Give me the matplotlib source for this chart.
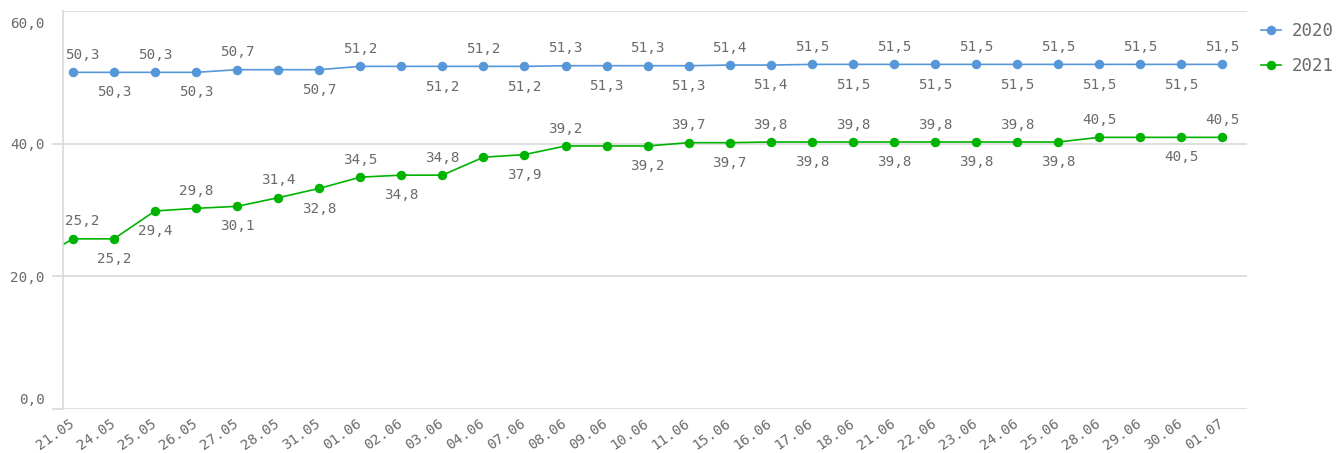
import matplotlib
matplotlib.use("Agg")
import matplotlib.pyplot as plt
import matplotlib.transforms as mtransforms
import numpy as np

# ---- data ----
dates = ["20.05", "21.05", "24.05", "25.05", "26.05", "27.05", "28.05", "31.05", "01.06",
         "02.06", "03.06", "04.06", "07.06", "08.06", "09.06", "10.06", "11.06",
         "15.06", "16.06", "17.06", "18.06", "21.06", "22.06", "23.06", "24.06",
         "25.06", "28.06", "29.06", "30.06", "01.07"]
s2020 = [np.nan, 50.3, 50.3, 50.3, 50.3, 50.7, 50.7, 50.7, 51.2, 51.2, 51.2, 51.2, 51.2,
         51.3, 51.3, 51.3, 51.3, 51.4, 51.4, 51.5, 51.5, 51.5, 51.5, 51.5, 51.5,
         51.5, 51.5, 51.5, 51.5, 51.5]
s2021 = [21.6, 25.2, 25.2, 29.4, 29.8, 30.1, 31.4, 32.8, 34.5, 34.8, 34.8, 37.5, 37.9,
         39.2, 39.2, 39.2, 39.7, 39.7, 39.8, 39.8, 39.8, 39.8, 39.8, 39.8, 39.8,
         39.8, 40.5, 40.5, 40.5, 40.5]
yticks = [0, 20, 40, 60]

# label placement: 1 above, -1 below, 0 none
pos2020 = [0, 1, -1, 1, -1, 1, 0, -1, 1, 0, -1, 1, -1, 1, -1, 1, -1, 1, -1,
           1, -1, 1, -1, 1, -1, 1, -1, 1, -1, 1]
pos2021 = [0, 1, -1, -1, 1, -1, 1, -1, 1, -1, 1, 0, -1, 1, 0, -1, 1, -1, 1,
           -1, 1, -1, 1, -1, 1, -1, 1, 0, -1, 1]

C20 = "#5597d8"
C21 = "#00b300"
TXT = "#6b6b6b"
GRID = "#d9d9d9"
FONT = "DejaVu Sans Mono"

fig = plt.figure(figsize=(13.37, 4.53), dpi=100)
ax = fig.add_axes([63/1337, 1-409/453, (1247-63)/1337, (409-11)/453])

# small upward render offset of the series (as in the reference rendering)
shift = mtransforms.offset_copy(ax.transData, fig=fig, x=0, y=3, units="dots")

x = np.arange(len(dates))
ax.plot(x, s2020, color=C20, lw=1.2, marker="o", ms=5.8, label="2020", transform=shift)
ax.plot(x, s2021, color=C21, lw=1.2, marker="o", ms=5.8, label="2021", transform=shift)

def fmt(v):
    return f"{v:.1f}".replace(".", ",")

for series, poss in ((s2020, pos2020), (s2021, pos2021)):
    for i, (v, p) in enumerate(zip(series, poss)):
        if p == 0 or np.isnan(v):
            continue
        dx = 7 if i == 1 else 0
        dy = 12.5 if p > 0 else -14.5
        ax.annotate(fmt(v), (x[i], v), xycoords=shift, xytext=(dx, dy),
                    textcoords="offset points", ha="center", va="center",
                    fontsize=10.3, color=TXT, family=FONT)

ax.set_xlim(0.76, 29.6)
ax.set_ylim(0, 60)
ax.set_yticks(yticks)
ax.set_yticklabels([fmt(v) for v in yticks], family=FONT, fontsize=10.3, color=TXT)
ax.set_xticks(x[1:])
ax.set_xticklabels(dates[1:], rotation=35, ha="right", va="center", rotation_mode="anchor",
                   family=FONT, fontsize=10.3, color=TXT)
xoff = mtransforms.ScaledTranslation(4/100, 0, fig.dpi_scale_trans)
for lab in ax.get_xticklabels():
    lab.set_transform(lab.get_transform() + xoff)
ax.tick_params(axis="y", length=8, color=GRID, width=1.2, pad=5)
ax.tick_params(axis="x", length=0, pad=9)

# nudge the outermost y labels inside the plot range
ylabs = ax.get_yticklabels()
ylabs[0].set_transform(ylabs[0].get_transform() + mtransforms.ScaledTranslation(0, 10/100, fig.dpi_scale_trans))
ylabs[-1].set_transform(ylabs[-1].get_transform() + mtransforms.ScaledTranslation(0, -11/100, fig.dpi_scale_trans))
ax.yaxis.get_major_ticks()[-1].tick1line.set_visible(False)

ax.grid(axis="y", color=GRID, lw=1.2)
ax.set_axisbelow(True)
for s in ("top", "right", "bottom"):
    ax.spines[s].set_visible(False)
ax.spines["left"].set_color(GRID)
ax.spines["left"].set_linewidth(1.2)

leg = fig.legend(loc="upper left", bbox_to_anchor=(1261/1337, 1-22/453), frameon=False,
                 prop={"family": FONT, "size": 12.5}, labelcolor=TXT, borderpad=0,
                 borderaxespad=0, handlelength=1.15, handletextpad=0.6, labelspacing=1.0)

fig.savefig("out.png", dpi=100, facecolor="white")
